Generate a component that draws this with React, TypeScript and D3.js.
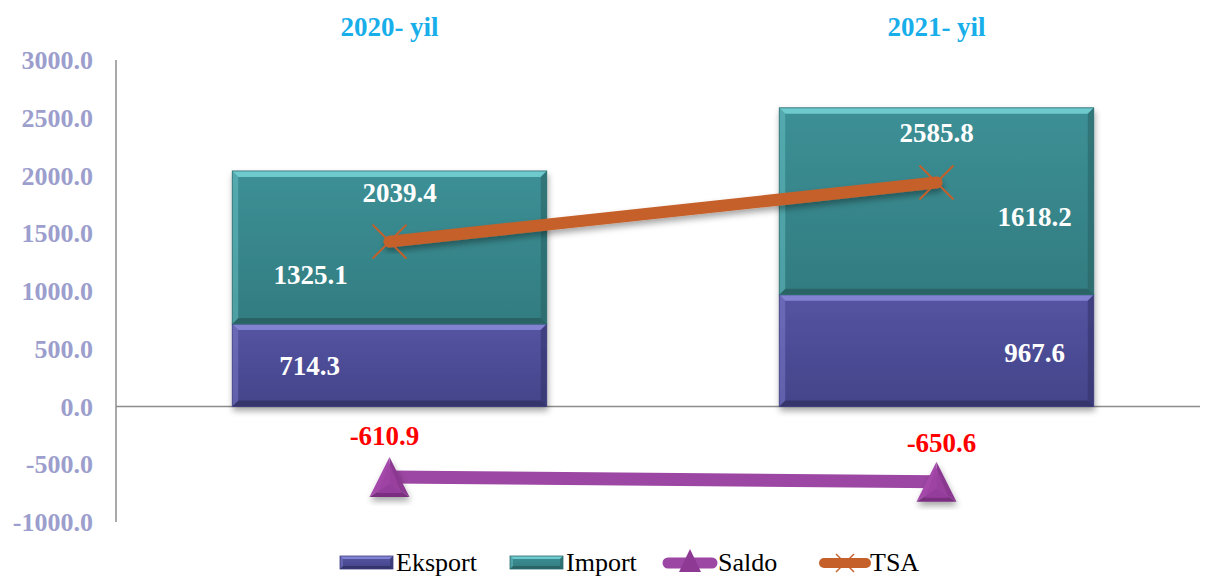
import React from "react";
import * as d3 from "d3";

const years = ["2020- yil", "2021- yil"];
const eksport = [714.3, 967.6];
const importV = [1325.1, 1618.2];
const saldo = [-610.9, -650.6];
const tsa = [2039.4, 2585.8];
const yTicks = [3000, 2500, 2000, 1500, 1000, 500, 0, -500, -1000];

const W = 1218;
const H = 578;
const SERIF = "'Times New Roman', Times, 'Liberation Serif', Tinos, 'DejaVu Serif', serif";

export default function App() {
  const x = d3.scaleBand<string>().domain(years).range([116, 1210]).paddingInner(0).paddingOuter(0);
  const y = d3.scaleLinear().domain([-1000, 3000]).range([522, 60]);
  const y2 = d3.scaleLinear().domain([500, 3720]).range([408, 60]);
  const barW = x.bandwidth() * 0.575;
  const cx = (i: number) => (x(years[i]) as number) + x.bandwidth() / 2;

  const bevelRect = (x0: number, y0: number, w: number, h: number, base: string, light: string, dark: string, key: string, grad: string, b = 6) => (
    <g key={key}>
      <rect x={x0} y={y0} width={w} height={h} fill={`url(#${grad})`} />
      <polygon points={`${x0},${y0} ${x0 + w},${y0} ${x0 + w - b},${y0 + b} ${x0 + b},${y0 + b}`} fill={light} />
      <polygon points={`${x0},${y0 + h} ${x0 + w},${y0 + h} ${x0 + w - b},${y0 + h - b} ${x0 + b},${y0 + h - b}`} fill={dark} />
      <polygon points={`${x0},${y0} ${x0 + b},${y0 + b} ${x0 + b},${y0 + h - b} ${x0},${y0 + h}`} fill={light} opacity={0.45} />
      <polygon points={`${x0 + w},${y0} ${x0 + w - b},${y0 + b} ${x0 + w - b},${y0 + h - b} ${x0 + w},${y0 + h}`} fill={dark} opacity={0.6} />
      <rect x={x0} y={y0} width={w} height={h} fill="none" stroke={base} strokeWidth={0.8} />
    </g>
  );

  const tri = (px: number, py: number, s: number, key: string) => {
    const hw = s / 2;
    const h = s;
    const top = py - h / 2;
    const bot = py + h / 2;
    const cy = top + h * 0.66;
    return (
      <g key={key} filter="url(#shadow)">
        <polygon points={`${px},${top} ${px + hw},${bot} ${px},${cy}`} fill="#8A3790" />
        <polygon points={`${px},${top} ${px - hw},${bot} ${px},${cy}`} fill="#A449AA" />
        <polygon points={`${px - hw},${bot} ${px + hw},${bot} ${px},${cy}`} fill="#7A2E80" />
        <polygon points={`${px},${top + 6} ${px + hw - 8},${bot - 4} ${px - hw + 8},${bot - 4}`} fill="#9C42A2" opacity={0.8} />
      </g>
    );
  };

  const xMark = (px: number, py: number, s: number, key: string, sw = 2) => (
    <g key={key} stroke="#C5602A" strokeWidth={sw}>
      <line x1={px - s} y1={py - s} x2={px + s} y2={py + s} />
      <line x1={px - s} y1={py + s} x2={px + s} y2={py - s} />
    </g>
  );

  const tsaLine = d3.line<number>().x((_, i) => cx(i)).y((d) => y2(d));
  const saldoLine = d3.line<number>().x((_, i) => cx(i)).y((d) => y(d));

  const LY = 562;

  return (
    <svg width={W} height={H} style={{ position: "absolute", left: 0, top: 0, background: "#fff" }} fontFamily={SERIF}>
      <defs>
        <linearGradient id="gE" x1="0" y1="0" x2="0" y2="1">
          <stop offset="0" stopColor="#5454A2" />
          <stop offset="1" stopColor="#44448A" />
        </linearGradient>
        <linearGradient id="gI" x1="0" y1="0" x2="0" y2="1">
          <stop offset="0" stopColor="#3C9096" />
          <stop offset="1" stopColor="#327C80" />
        </linearGradient>
        <filter id="shadow" x="-20%" y="-20%" width="140%" height="140%">
          <feDropShadow dx="1" dy="4" stdDeviation="3" floodColor="#000" floodOpacity="0.35" />
        </filter>
      </defs>

      {/* axis */}
      <line x1={116} y1={y(3000)} x2={116} y2={y(-1000)} stroke="#8C8C8C" strokeWidth={1.5} />
      <line x1={116} y1={y(0)} x2={1200} y2={y(0)} stroke="#8C8C8C" strokeWidth={1.5} />
      {yTicks.map((t) => (
        <text key={t} x={93} y={y(t)} dy="0.35em" textAnchor="end" fill="#9C9ECD" fontFamily={SERIF} fontWeight={700} fontSize={26}>
          {t.toFixed(1)}
        </text>
      ))}

      {/* bars */}
      {years.map((yr, i) => {
        const x0 = cx(i) - barW / 2;
        const eTop = y(eksport[i]);
        const iTop = y(eksport[i] + importV[i]);
        return (
          <g key={yr} filter="url(#shadow)">
            {bevelRect(x0, eTop, barW, y(0) - eTop, "#3E3E80", "#8282D2", "#34346C", "e" + i, "gE")}
            {bevelRect(x0, iTop, barW, eTop - iTop, "#2C6C70", "#6ECACC", "#2A6466", "i" + i, "gI")}
          </g>
        );
      })}

      {/* year titles */}
      {years.map((yr, i) => (
        <text key={yr} x={cx(i)} y={27} dy="0.35em" textAnchor="middle" fill="#17AEEA" fontFamily={SERIF} fontWeight={700} fontSize={27}>
          {yr}
        </text>
      ))}

      {/* TSA line */}
      <path d={tsaLine(tsa) as string} fill="none" stroke="#C5602A" strokeWidth={12} strokeLinecap="round" filter="url(#shadow)" />
      {tsa.map((v, i) => xMark(cx(i), y2(v), 17, "tx" + i))}

      {/* Saldo line */}
      <path d={saldoLine(saldo) as string} fill="none" stroke="#9C47A3" strokeWidth={13} />
      {saldo.map((v, i) => tri(cx(i), y(v), 40, "s" + i))}

      {/* data labels */}
      <g fill="#fff" fontFamily={SERIF} fontWeight={700} fontSize={27}>
        <text x={cx(0) + 10} y={193} dy="0.35em" textAnchor="middle">{tsa[0].toFixed(1)}</text>
        <text x={cx(0) - 79} y={275} dy="0.35em" textAnchor="middle">{importV[0].toFixed(1)}</text>
        <text x={cx(0) - 80} y={366} dy="0.35em" textAnchor="middle">{eksport[0].toFixed(1)}</text>
        <text x={cx(1)} y={133} dy="0.35em" textAnchor="middle">{tsa[1].toFixed(1)}</text>
        <text x={cx(1) + 98} y={217} dy="0.35em" textAnchor="middle">{importV[1].toFixed(1)}</text>
        <text x={cx(1) + 98} y={353} dy="0.35em" textAnchor="middle">{eksport[1].toFixed(1)}</text>
      </g>
      <g fill="#FF0000" fontFamily={SERIF} fontWeight={700} fontSize={27}>
        <text x={cx(0) - 5} y={436} dy="0.35em" textAnchor="middle">{saldo[0].toFixed(1)}</text>
        <text x={cx(1) + 5} y={443} dy="0.35em" textAnchor="middle">{saldo[1].toFixed(1)}</text>
      </g>

      {/* legend */}
      <g fontFamily={SERIF} fontSize={26} fill="#000">
        {bevelRect(340, LY - 6, 53, 13, "#3E3E80", "#8282D2", "#34346C", "le", "gE", 3)}
        <text x={396} y={LY} dy="0.35em">Eksport</text>
        {bevelRect(510, LY - 6, 53, 13, "#2C6C70", "#6ECACC", "#2A6466", "li", "gI", 3)}
        <text x={566} y={LY} dy="0.35em">Import</text>
        <line x1={668} y1={LY + 1} x2={712} y2={LY + 1} stroke="#9C47A3" strokeWidth={11} strokeLinecap="round" />
        <polygon points={`690,${LY - 13} 701,${LY + 10} 679,${LY + 10}`} fill="#8E3A95" />
        <text x={718} y={LY} dy="0.35em">Saldo</text>
        <line x1={824} y1={LY + 1} x2={866} y2={LY + 1} stroke="#C5602A" strokeWidth={10} strokeLinecap="round" />
        {xMark(845, LY + 1, 9, "lx", 1.5)}
        <text x={870} y={LY} dy="0.35em">TSA</text>
      </g>
    </svg>
  );
}
